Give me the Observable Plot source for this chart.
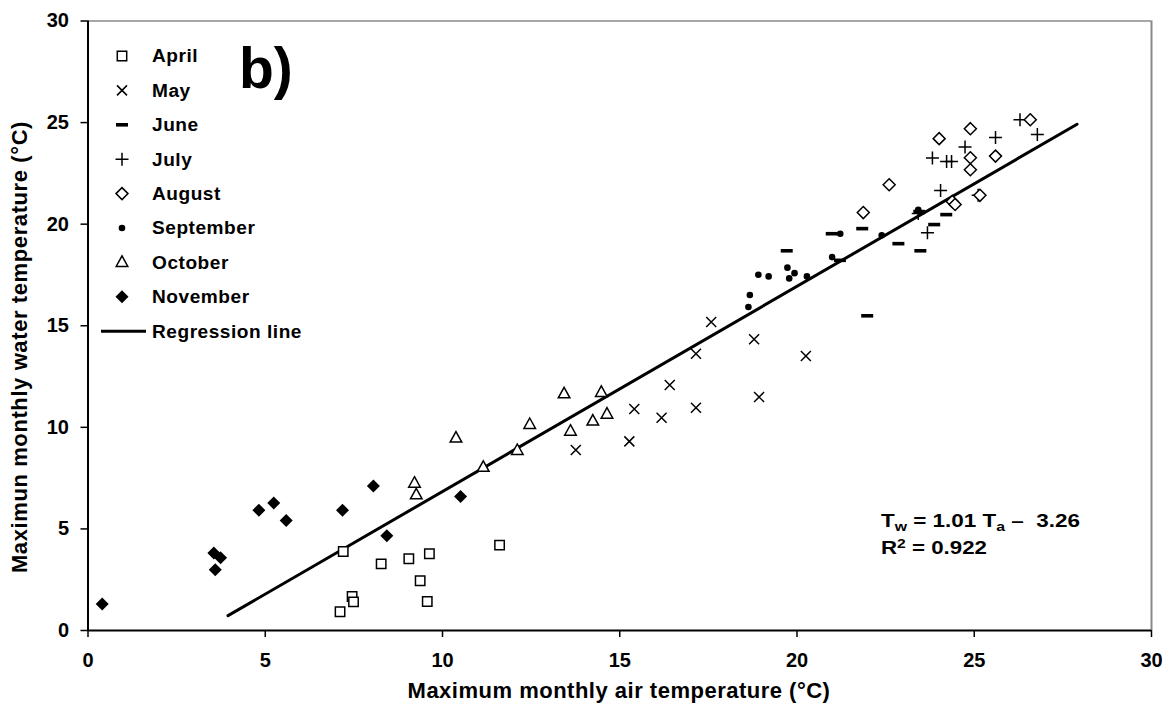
<!DOCTYPE html>
<html><head><meta charset="utf-8">
<script src="https://cdn.jsdelivr.net/npm/d3@7"></script>
<script src="https://cdn.jsdelivr.net/npm/@observablehq/plot@0.6"></script>
<style>body{margin:0;background:#fff;} svg{display:block;}</style>
</head><body><div id="chart"></div>
<script>
// ---- data ----
const months = ["April","May","June","July","August","September","October","November"];
const aprilX = [7.20, 8.27, 9.05, 9.63, 9.37, 9.57, 7.45, 7.49, 7.11, 11.61];
const aprilY = [3.89, 3.28, 3.53, 3.78, 2.45, 1.43, 1.67, 1.41, 0.92, 4.20];
const mayX = [13.76, 15.27, 15.41, 16.18, 16.41, 17.15, 17.15, 18.93, 20.25, 17.58, 18.79];
const mayY = [8.88, 9.31, 10.90, 10.47, 12.08, 10.96, 13.62, 11.49, 13.51, 15.18, 14.34];
const juneX = [19.71, 20.98, 21.21, 21.84, 21.98, 22.86, 23.48, 23.87, 24.21, 23.45];
const juneY = [18.69, 19.53, 18.22, 19.78, 15.49, 19.04, 18.69, 19.98, 20.47, 20.62];
const julyX = [23.68, 23.42, 24.05, 23.82, 24.22, 24.36, 24.74, 25.60, 26.29, 26.78, 25.11];
const julyY = [19.58, 20.52, 21.66, 23.26, 23.09, 23.09, 23.80, 24.26, 25.14, 24.41, 21.42];
const augustX = [21.87, 22.60, 24.01, 24.89, 24.89, 24.89, 25.60, 26.58, 24.38, 24.46, 25.16];
const augustY = [20.57, 21.94, 24.21, 24.70, 23.27, 22.68, 23.35, 25.14, 21.12, 20.97, 21.42];
const septemberX = [18.63, 18.67, 18.91, 19.20, 19.73, 19.93, 19.78, 20.28, 20.99, 21.22, 22.39, 23.42];
const septemberY = [15.92, 16.51, 17.51, 17.43, 17.86, 17.59, 17.33, 17.43, 18.38, 19.53, 19.45, 20.71];
const octoberX = [9.21, 9.26, 10.38, 11.15, 12.11, 12.46, 13.43, 13.61, 14.24, 14.48, 14.64];
const octoberY = [7.25, 6.68, 9.47, 8.03, 8.86, 10.14, 11.65, 9.81, 10.31, 11.72, 10.65];
const novemberX = [0.40, 3.55, 3.74, 3.59, 4.82, 5.24, 5.59, 7.18, 8.05, 8.43, 10.51];
const novemberY = [1.30, 3.82, 3.58, 2.99, 5.92, 6.27, 5.42, 5.92, 7.11, 4.66, 6.60];
const regressionX = [3.95, 27.9];
const regressionY = [0.73, 24.92];
const xTicks = [0, 5, 10, 15, 20, 25, 30];
const yTicks = [0, 5, 10, 15, 20, 25, 30];
const xLabel = "Maximum monthly air temperature (°C)";
const yLabel = "Maximun monthly water temperature (°C)";

const seriesX = [aprilX, mayX, juneX, julyX, augustX, septemberX, octoberX, novemberX];
const seriesY = [aprilY, mayY, juneY, julyY, augustY, septemberY, octoberY, novemberY];
const points = months.flatMap((m, i) => seriesX[i].map((x, j) => ({month: m, x, y: seriesY[i][j]})));
const regression = regressionX.map((x, i) => ({x, y: regressionY[i]}));

// ---- custom marker shapes ----
const S = f => ({draw(ctx, size) { const k = Math.sqrt(size / Math.PI) / 6; f(ctx, k); }});
const symSquare = S((c, k) => { c.rect(-4.7*k, -4.7*k, 9.4*k, 9.4*k); });
const symTimes = S((c, k) => { c.moveTo(-5*k, -5*k); c.lineTo(5*k, 5*k); c.moveTo(5*k, -5*k); c.lineTo(-5*k, 5*k); });
const symDash = S((c, k) => { c.rect(-6*k, -1.8*k, 12*k, 3.6*k); });
const symPlus = S((c, k) => { c.moveTo(-6.5*k, 0); c.lineTo(6.5*k, 0); c.moveTo(0, -6.5*k); c.lineTo(0, 6.5*k); });
const symDiamond = S((c, k) => { c.moveTo(0, -6*k); c.lineTo(6*k, 0); c.lineTo(0, 6*k); c.lineTo(-6*k, 0); c.closePath(); });
const symDot = S((c, k) => { c.moveTo(3.3*k, 0); c.arc(0, 0, 3.3*k, 0, 2*Math.PI); });
const symTriangle = S((c, k) => { c.moveTo(0, -6.5*k); c.lineTo(5.8*k, 4*k); c.lineTo(-5.8*k, 4*k); c.closePath(); });
const symDiamondF = S((c, k) => { c.moveTo(0, -6.5*k); c.lineTo(6.5*k, 0); c.lineTo(0, 6.5*k); c.lineTo(-6.5*k, 0); c.closePath(); });

const styles = {
  April:     {symbol: symSquare,   fill: "white", stroke: "black", strokeWidth: 1.5},
  May:       {symbol: symTimes,    fill: "none",  stroke: "black", strokeWidth: 1.5},
  June:      {symbol: symDash,     fill: "black", stroke: "none",  strokeWidth: 0},
  July:      {symbol: symPlus,     fill: "none",  stroke: "black", strokeWidth: 1.5},
  August:    {symbol: symDiamond,  fill: "white", stroke: "black", strokeWidth: 1.5},
  September: {symbol: symDot,      fill: "black", stroke: "none",  strokeWidth: 0},
  October:   {symbol: symTriangle, fill: "white", stroke: "black", strokeWidth: 1.5},
  November:  {symbol: symDiamondF, fill: "black", stroke: "none",  strokeWidth: 0}
};

const FONT = "'Liberation Sans', Arial, Helvetica, sans-serif";

const plot = Plot.plot({
  width: 1168, height: 703,
  marginLeft: 87.5, marginRight: 17, marginTop: 20.5, marginBottom: 73,
  x: {domain: [0, 30]},
  y: {domain: [0, 30]},
  style: {fontFamily: FONT, fontWeight: "bold", color: "black", background: "white"},
  marks: [
    Plot.ruleY([30], {stroke: "#8a8a8a", strokeWidth: 1.5}),
    Plot.ruleX([30], {stroke: "#8a8a8a", strokeWidth: 2}),
    Plot.axisX({ticks: xTicks, tickSize: 7, tickPadding: 15, tickFormat: d => String(d), label: null, strokeWidth: 1.5}),
    Plot.axisY({ticks: yTicks, tickSize: 7, tickPadding: 12, tickFormat: d => String(d), label: null, strokeWidth: 1.5}),
    Plot.ruleX([0], {stroke: "black", strokeWidth: 2}),
    Plot.ruleY([0], {stroke: "black", strokeWidth: 2}),
    Plot.line(regression, {x: "x", y: "y", stroke: "black", strokeWidth: 3}),
    ...months.map(m => Plot.dot(points.filter(d => d.month === m), {x: "x", y: "y", r: 6, ...styles[m]}))
  ]
});
document.getElementById("chart").appendChild(plot);

const svg = d3.select(plot);
svg.selectAll("text").style("font-size", "20px").style("font-weight", "bold");

// ---- annotations: labels, legend, panel letter, equation ----
const g = svg.append("g").attr("font-family", FONT).attr("font-weight", "bold")
  .attr("fill", "black").attr("text-anchor", "start");
const stretch = (sel, f) => sel.each(function() {
  const w = this.getComputedTextLength();
  if (w > 0) this.setAttribute("textLength", (w * f).toFixed(1)), this.setAttribute("lengthAdjust", "spacingAndGlyphs");
});

g.append("text").attr("x", 619).attr("y", 698).attr("text-anchor", "middle").attr("font-size", 22)
  .attr("letter-spacing", "0.5px").text(xLabel);
g.append("text").attr("transform", "translate(27,347) rotate(-90)").attr("text-anchor", "middle")
  .attr("font-size", 22).attr("letter-spacing", "0.6px").text(yLabel);

g.append("text").attr("x", 239).attr("y", 88).attr("font-size", 57).text("b)");

const legendRows = [...months, "Regression line"];
legendRows.forEach((name, i) => {
  const cy = 56 + i * 34.4;
  if (styles[name]) {
    const s = styles[name];
    g.append("path")
      .attr("transform", `translate(122,${cy})`)
      .attr("d", d3.symbol().type(s.symbol).size(Math.PI * 36)())
      .attr("fill", s.fill).attr("stroke", s.stroke).attr("stroke-width", s.strokeWidth);
  } else {
    g.append("line").attr("x1", 101).attr("x2", 146).attr("y1", cy).attr("y2", cy)
      .attr("stroke", "black").attr("stroke-width", 3);
  }
  const t = g.append("text").attr("x", 152).attr("y", cy).attr("dy", "0.36em").attr("font-size", 18)
    .attr("letter-spacing", "0.5px").text(name);
  stretch(t, 1.06);
});

const eq = g.append("text").attr("x", 881).attr("y", 527).attr("font-size", 18.5)
  .attr("textLength", 199).attr("lengthAdjust", "spacingAndGlyphs");
eq.append("tspan").text("T");
eq.append("tspan").attr("font-size", 13).attr("dy", 4).text("w");
eq.append("tspan").attr("dy", -4).text(" = 1.01 T");
eq.append("tspan").attr("font-size", 13).attr("dy", 4).text("a");
eq.append("tspan").attr("dy", -4).text(" –  3.26");
const r2 = g.append("text").attr("x", 881).attr("y", 554).attr("font-size", 18.5)
  .attr("textLength", 106).attr("lengthAdjust", "spacingAndGlyphs");
r2.append("tspan").text("R");
r2.append("tspan").attr("font-size", 13).attr("dy", -6).text("2");
r2.append("tspan").attr("dy", 6).text(" = 0.922");
</script></body></html>
